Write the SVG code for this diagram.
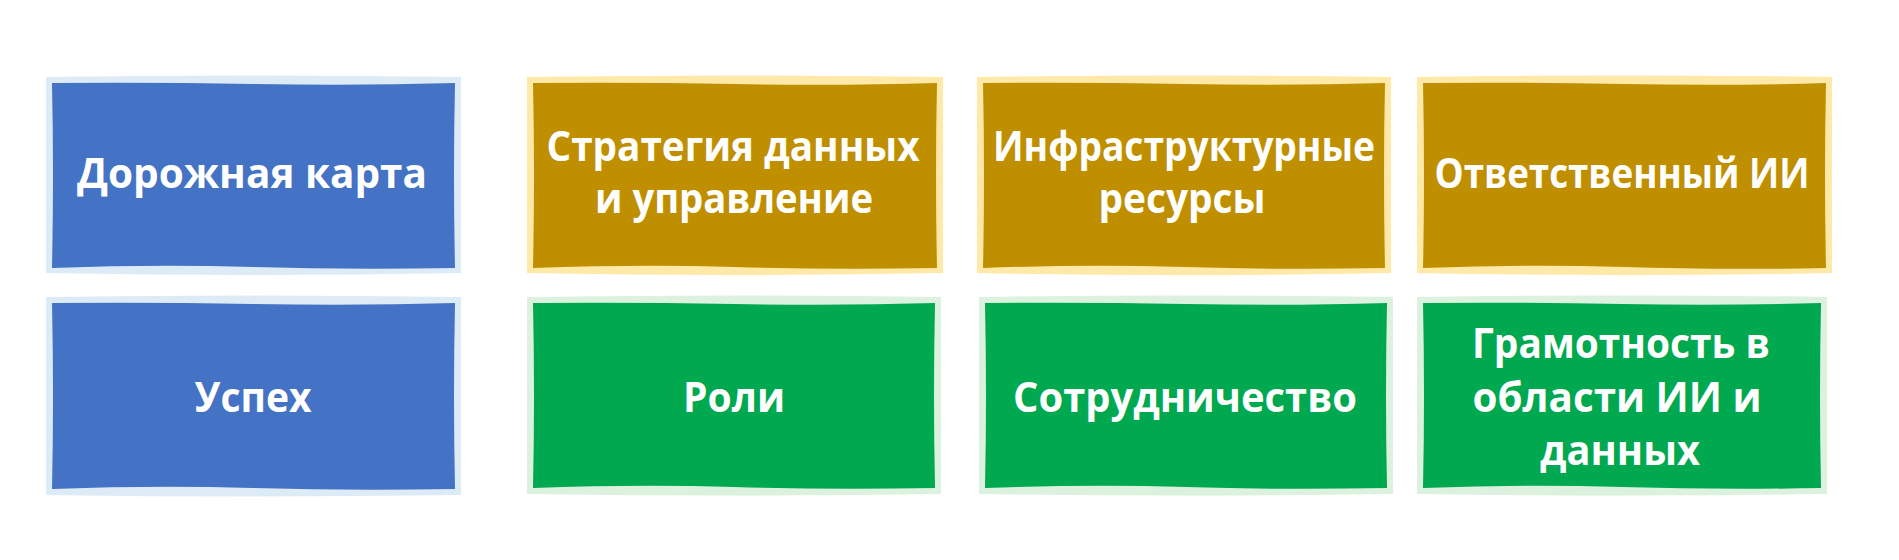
<svg xmlns="http://www.w3.org/2000/svg" width="1899" height="560" viewBox="0 0 1899 560">
<style>
.t{font-family:"Open Sans","Noto Sans","Liberation Sans",sans-serif;font-weight:700;font-size:42px;fill:#ffffff;text-anchor:middle}
.bo{fill:#DDEBF7}
.bi{fill:#4472C4}
.go{fill:#FFE9A8}
.gi{fill:#BF8F00}
.eo{fill:#DCF2DF}
.ei{fill:#00A84F}
</style>
<rect width="1899" height="560" fill="#ffffff"/>
<g id="node-roadmap">
<path class="bo" d="M46 77 Q250 74 461 77 L461 273 Q250 277 46 273 Z"/>
<path class="bi" d="M52 83 Q150 82 253 84 T455 83 Q453 175 455 268 Q350 270 253 267 T52 268 Q54 175 52 83 Z"/>
<text class="t" x="252" y="188" textLength="350" lengthAdjust="spacingAndGlyphs">Дорожная карта</text>
</g>
<g id="node-strategy">
<path class="go" d="M527 77 Q735 74 943 77 L943 273 Q735 277 527 273 Z"/>
<path class="gi" d="M533 83 Q630 82 735 84 T937 83 Q935 175 937 268 Q830 270 735 267 T533 268 Q535 175 533 83 Z"/>
<text class="t" x="733" y="161" textLength="373" lengthAdjust="spacingAndGlyphs">Стратегия данных</text>
<text class="t" x="734" y="213" textLength="278" lengthAdjust="spacingAndGlyphs">и управление</text>
</g>
<g id="node-infra">
<path class="go" d="M977 77 Q1184 74 1391 77 L1391 273 Q1184 277 977 273 Z"/>
<path class="gi" d="M983 83 Q1080 82 1184 84 T1385 83 Q1383 175 1385 268 Q1280 270 1184 267 T983 268 Q985 175 983 83 Z"/>
<text class="t" x="1184" y="161" textLength="382" lengthAdjust="spacingAndGlyphs">Инфраструктурные</text>
<text class="t" x="1182" y="213" textLength="167" lengthAdjust="spacingAndGlyphs">ресурсы</text>
</g>
<g id="node-responsible">
<path class="go" d="M1417 77 Q1624 74 1832 77 L1832 273 Q1624 277 1417 273 Z"/>
<path class="gi" d="M1423 83 Q1520 82 1624 84 T1826 83 Q1824 175 1826 268 Q1720 270 1624 267 T1423 268 Q1425 175 1423 83 Z"/>
<text class="t" x="1622" y="188" textLength="375" lengthAdjust="spacingAndGlyphs">Ответственный ИИ</text>
</g>
<g id="node-success">
<path class="bo" d="M46 297 Q250 294 461 297 L461 495 Q250 498 46 495 Z"/>
<path class="bi" d="M52 303 Q150 302 253 304 T455 303 Q453 396 455 489 Q350 491 253 488 T52 489 Q54 396 52 303 Z"/>
<text class="t" x="253" y="412" textLength="117" lengthAdjust="spacingAndGlyphs">Успех</text>
</g>
<g id="node-roles">
<path class="eo" d="M527 297 Q734 294 941 297 L941 494 Q734 497 527 494 Z"/>
<path class="ei" d="M533 303 Q630 302 734 304 T935 303 Q933 396 935 488 Q830 490 734 487 T533 488 Q535 396 533 303 Z"/>
<text class="t" x="734" y="412" textLength="102" lengthAdjust="spacingAndGlyphs">Роли</text>
</g>
<g id="node-collab">
<path class="eo" d="M979 297 Q1186 294 1393 297 L1393 494 Q1186 497 979 494 Z"/>
<path class="ei" d="M985 303 Q1080 302 1186 304 T1387 303 Q1385 396 1387 488 Q1280 490 1186 487 T985 488 Q987 396 985 303 Z"/>
<text class="t" x="1185" y="412" textLength="344" lengthAdjust="spacingAndGlyphs">Сотрудничество</text>
</g>
<g id="node-literacy">
<path class="eo" d="M1417 297 Q1622 294 1827 297 L1827 494 Q1622 497 1417 494 Z"/>
<path class="ei" d="M1423 303 Q1520 302 1622 304 T1821 303 Q1819 396 1821 488 Q1720 490 1622 487 T1423 488 Q1425 396 1423 303 Z"/>
<text class="t" x="1621" y="358" textLength="298" lengthAdjust="spacingAndGlyphs">Грамотность в</text>
<text class="t" x="1617" y="412" textLength="289" lengthAdjust="spacingAndGlyphs">области ИИ и</text>
<text class="t" x="1620" y="465" textLength="160" lengthAdjust="spacingAndGlyphs">данных</text>
</g>
<g id="connectors"></g>
</svg>
